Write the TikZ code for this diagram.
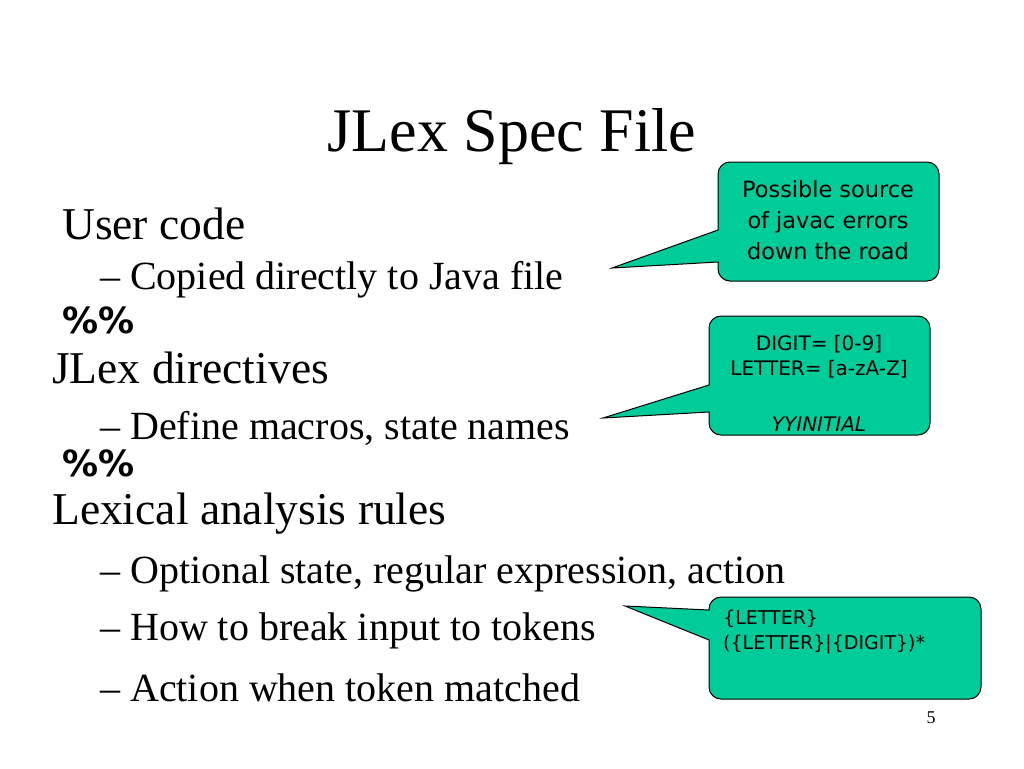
\documentclass[tikz,border=0pt]{standalone}
\usepackage{fontspec}
\setmainfont{Liberation Serif}
\newfontfamily\callfont{DejaVu Sans}
\begin{document}
\begin{tikzpicture}[x=1pt,y=-1pt,
  txt/.style={anchor=west,inner sep=0pt,font=\fontsize{40}{42}\selectfont},
  big/.style={anchor=west,inner sep=0pt,font=\fontsize{45.5}{48}\selectfont},
  pct/.style={anchor=west,inner sep=0pt,font=\callfont\bfseries\fontsize{36}{40}\selectfont},
  call/.style={fill=callcol,draw=black,line width=1pt},
  ct/.style={inner sep=0pt,font=\callfont\fontsize{22.4}{31}\selectfont}]
\definecolor{callcol}{HTML}{00CC99}
\useasboundingbox (0,0) rectangle (1024,768);
\node[inner sep=0pt,font=\fontsize{62}{66}\selectfont] (title) at (512,137) {JLex Spec File};
\node[big] (uc) at (62,224) {User code};
\node[txt] (s1) at (100,280) {-- Copied directly to Java file};
\node[pct] (p1) at (62,320) {\%\%};
\node[big] (jd) at (52,368) {JLex directives};
\node[txt] (s2) at (100,428) {-- Define macros, state names};
\node[pct] (p2) at (62,463) {\%\%};
\node[big] (lx) at (52,514) {Lexical analysis rules};
\node[txt] (s3) at (100,574) {-- Optional state, regular expression, action};
\node[txt] (s4) at (100,631) {-- How to break input to tokens};
\node[txt] (s5) at (100,688) {-- Action when token matched};
\node[inner sep=0pt,font=\fontsize{18}{20}\selectfont] (pn) at (931,718) {5};
% callout 1
\draw[call] (718,230) [rounded corners=12] -- (718,162) -- (939,162) -- (939,281) -- (718,281) [sharp corners] -- (718,262) -- (612,268) -- cycle;
\node[ct,align=center] (c1) at (828,220) {Possible source\\of javac errors\\down the road};
% callout 2
\draw[call] (709,385) [rounded corners=12] -- (709,316) -- (930,316) -- (930,435) -- (709,435) [sharp corners] -- (709,412) -- (603,418) -- cycle;
\node[ct,font=\callfont\fontsize{20}{25}\selectfont] (c2a) at (819,344) {DIGIT= [0-9]};
\node[ct,font=\callfont\fontsize{20}{25}\selectfont] (c2b) at (819,369) {LETTER= [a-zA-Z]};
\node[ct,font=\callfont\itshape\fontsize{20}{25}\selectfont] (c2c) at (819,424) {YYINITIAL};
% callout 3
\draw[call] (709,610) [rounded corners=12] -- (709,597) -- (981,597) -- (981,699) -- (709,699) [sharp corners] -- (709,640) -- (625,606) -- cycle;
\node[ct,anchor=west,font=\callfont\fontsize{19}{25}\selectfont] (c3a) at (723,619) {\{LETTER\}};
\node[ct,anchor=west,font=\callfont\fontsize{19}{25}\selectfont] (c3b) at (723,644) {(\{LETTER\}|\{DIGIT\})*};
\end{tikzpicture}
\end{document}
